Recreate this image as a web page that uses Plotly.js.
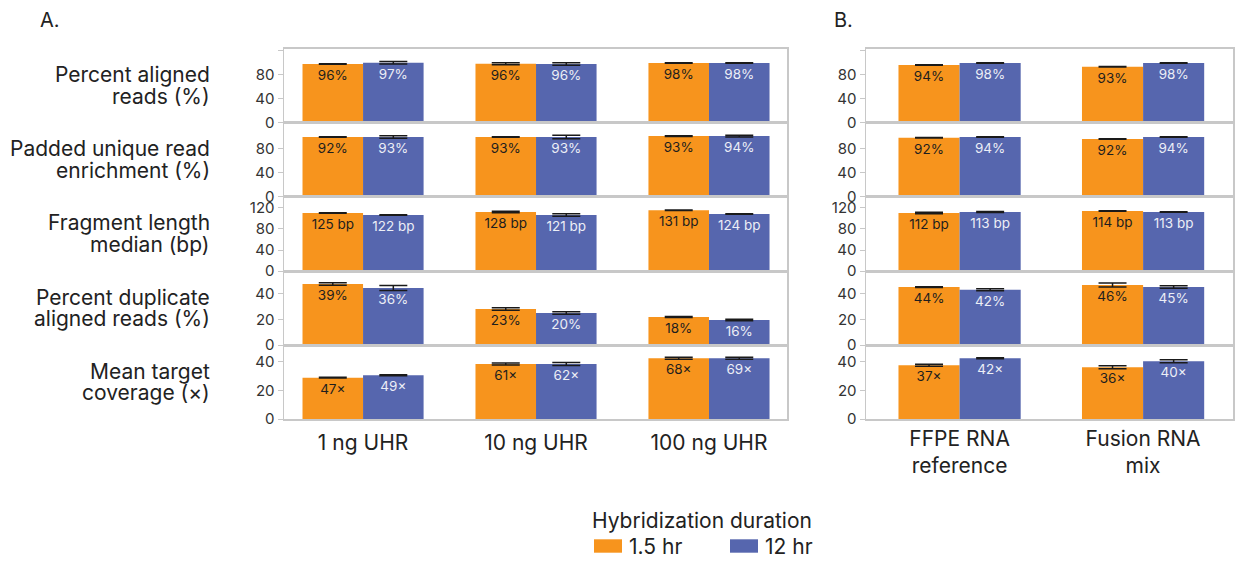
<!DOCTYPE html>
<html>
<head>
<meta charset="utf-8">
<script src="https://cdn.plot.ly/plotly-3.0.1.min.js"></script>
<style>html,body{margin:0;padding:0;background:#fff;}#chart{width:1235px;height:563px;}</style>
</head>
<body>
<div id="chart"></div>
<script>
// ---------- DATA ----------
const seriesNames = ["1.5 hr", "12 hr"];
const legendTitle = "Hybridization duration";
const categoriesA = ["1 ng UHR", "10 ng UHR", "100 ng UHR"];
const categoriesB = ["FFPE RNA<br>reference", "Fusion RNA<br>mix"];
const rowTitles = [
  ["Percent aligned", "reads (%)"],
  ["Padded unique read", "enrichment (%)"],
  ["Fragment length", "median (bp)"],
  ["Percent duplicate", "aligned reads (%)"],
  ["Mean target", "coverage (×)"]
];
const labelSuffix = ["%", "%", " bp", "%", "×"];

// bar heights as drawn (axis units), one array per row
const heightsA_15 = [[97.8, 98.3, 99.5], [99.5, 99.5, 101], [110.5, 112.4, 115.6], [47.5, 28, 21.8], [29, 38.6, 42.6]];
const heightsA_12 = [[100, 97.8, 99.5], [99.5, 99.5, 101], [106.7, 106.7, 108.6], [44.4, 24.9, 19.5], [30.7, 38.6, 42.6]];
const heightsB_15 = [[96.1, 93.3], [98.3, 96.1], [110.5, 114.3], [45.1, 46.7], [37.7, 36.3]];
const heightsB_12 = [[99.5, 99.5], [99.5, 99.5], [112.4, 112.4], [43, 45.1], [42.6, 40.5]];

// error bar half-lengths (axis units)
const errA_15 = [[0.5, 1.5, 0.5], [0.5, 0.5, 0.5], [0.5, 1.5, 0.5], [1, 1, 0.3], [0.3, 0.7, 0.7]];
const errA_12 = [[2, 2, 0.5], [2, 3, 1.5], [0.5, 2.5, 0.5], [2, 1, 0.6], [0.3, 1, 0.7]];
const errB_15 = [[0.5, 0.5], [0.5, 0.5], [1.5, 0.5], [0.3, 1.5], [0.7, 1]];
const errB_12 = [[0.5, 0.5], [0.5, 0.5], [1, 0.5], [0.7, 1], [0.3, 1]];

// printed values on the bars
const labelsA_15 = [[96, 96, 98], [92, 93, 93], [125, 128, 131], [39, 23, 18], [47, 61, 68]];
const labelsA_12 = [[97, 96, 98], [93, 93, 94], [122, 121, 124], [36, 20, 16], [49, 62, 69]];
const labelsB_15 = [[94, 93], [92, 92], [112, 114], [44, 46], [37, 36]];
const labelsB_12 = [[98, 98], [94, 94], [113, 113], [42, 45], [42, 40]];

// y axis ticks per row
const rowTickVals = [[0, 40, 80, 120], [0, 40, 80], [0, 40, 80, 120], [0, 20, 40], [0, 20, 40]];
const rowTickText = [["0", "40", "80", ""], ["0", "40", "80"], ["0", "40", "80", "120"], ["0", "20", "40"], ["0", "20", "40"]];
const rowRanges = [[0, 123.7], [0, 123.3], [0, 141.5], [0, 57.6], [0, 51.9]];

// ---------- LAYOUT HELPERS ----------
const W = 1235, H = 563;
const px = x => x / W;
const py = y => 1 - y / H;
const rowEdges = [48.5, 122.7, 196.7, 271, 345, 419];
const panelX = [[284, 787], [866, 1233]];
const panelRange = [[-0.457, 2.451], [-0.51, 1.49]];
const catStandoff = [4, 0];
const colors = ["#F7941D", "#5666AE"];
const textColors = ["#1e1e1e", "#eceef6"];
const gridCol = "#c8c8c8";
const bigFont = 21;

const traces = [];
const layout = {
  width: W, height: H,
  margin: {l: 0, r: 0, t: 0, b: 0},
  paper_bgcolor: "#fff", plot_bgcolor: "#fff",
  font: {family: "Inter, 'Noto Sans', sans-serif", color: "#222"},
  barmode: "overlay",
  showlegend: false,
  annotations: [],
  shapes: []
};

const panels = [
  {cats: categoriesA, h: [heightsA_15, heightsA_12], e: [errA_15, errA_12], l: [labelsA_15, labelsA_12], w: 0.35},
  {cats: categoriesB, h: [heightsB_15, heightsB_12], e: [errB_15, errB_12], l: [labelsB_15, labelsB_12], w: 0.333}
];

panels.forEach((p, pi) => {
  for (let r = 0; r < 5; r++) {
    const k = pi * 5 + r + 1;
    const xa = "x" + (k === 1 ? "" : k), ya = "y" + (k === 1 ? "" : k);
    const xName = "xaxis" + (k === 1 ? "" : k), yName = "yaxis" + (k === 1 ? "" : k);
    layout[xName] = {
      domain: [px(panelX[pi][0]), px(panelX[pi][1])],
      anchor: ya, type: "category", range: panelRange[pi],
      showline: true, mirror: true, linecolor: gridCol, linewidth: 1.5,
      showgrid: false, zeroline: false, ticks: "",
      showticklabels: r === 4,
      tickfont: {size: bigFont, color: "#222"},
      ticklabelstandoff: catStandoff[pi],
      fixedrange: true
    };
    layout[yName] = {
      domain: [py(rowEdges[r + 1]), py(rowEdges[r])],
      anchor: xa, range: rowRanges[r],
      tickmode: "array", tickvals: rowTickVals[r], ticktext: rowTickText[r],
      showline: true, mirror: true, linecolor: gridCol, linewidth: 1.5,
      showgrid: false, zeroline: false,
      ticks: "outside", ticklen: 5, tickcolor: gridCol, tickwidth: 1,
      tickfont: {size: 15, color: "#333"},
      fixedrange: true
    };
    for (let s = 0; s < 2; s++) {
      traces.push({
        type: "bar", name: seriesNames[s],
        x: p.cats, y: p.h[s][r],
        xaxis: xa, yaxis: ya,
        width: p.w, offset: s === 0 ? -p.w : 0,
        marker: {color: colors[s], line: {width: 0}},
        text: p.l[s][r].map(v => v + labelSuffix[r]),
        textposition: "inside", insidetextanchor: "end", textangle: 0,
        insidetextfont: {size: 13.5, color: textColors[s]},
        constraintext: "none",
        error_y: {type: "data", array: p.e[s][r], visible: true, color: "#1a1a1a", thickness: 1.5, width: 14},
        hoverinfo: "skip"
      });
    }
  }
});

// row titles
rowTitles.forEach((lines, r) => {
  const c = (rowEdges[r] + rowEdges[r + 1]) / 2;
  lines.forEach((t, li) => {
    layout.annotations.push({
      text: t, xref: "paper", yref: "paper", x: px(212), y: py(c - 10.5 + li * 21.5 - 0.5),
      xanchor: "right", yanchor: "middle", showarrow: false,
      font: {size: bigFont, color: "#222"}
    });
  });
});

// panel letters
[["A.", 38], ["B.", 832]].forEach(([t, x]) => {
  layout.annotations.push({text: t, xref: "paper", yref: "paper", x: px(x), y: py(20),
    xanchor: "left", yanchor: "middle", showarrow: false, font: {size: 20, color: "#222"}});
});

// legend
layout.annotations.push({text: legendTitle, xref: "paper", yref: "paper", x: px(702), y: py(520.5),
  xanchor: "center", yanchor: "middle", showarrow: false, font: {size: bigFont, color: "#222"}});
const legX = [[594, 627], [730, 763]];
seriesNames.forEach((n, i) => {
  layout.shapes.push({type: "rect", xref: "paper", yref: "paper",
    x0: px(legX[i][0]), x1: px(legX[i][0] + 28), y0: py(552.7), y1: py(539.3),
    fillcolor: colors[i], line: {width: 0}});
  layout.annotations.push({text: n, xref: "paper", yref: "paper", x: px(legX[i][1]), y: py(546),
    xanchor: "left", yanchor: "middle", showarrow: false, font: {size: bigFont, color: "#222"}});
});

Plotly.newPlot("chart", traces, layout, {staticPlot: true, displayModeBar: false});
</script>
</body>
</html>
